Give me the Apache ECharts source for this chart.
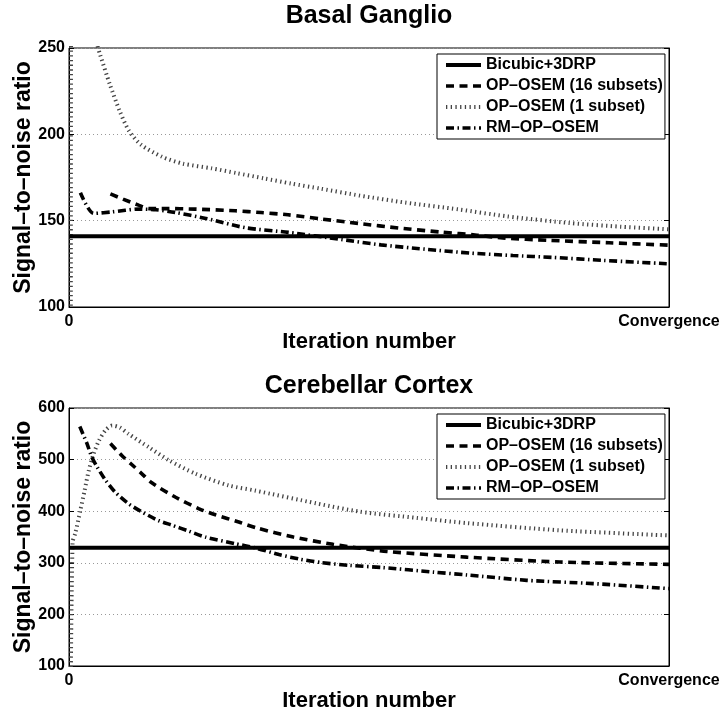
<!DOCTYPE html>
<html>
<head>
<meta charset="utf-8">
<script src="https://cdn.jsdelivr.net/npm/echarts@6/dist/echarts.min.js"></script>
<style>
  html, body { margin: 0; padding: 0; background: #fff; }
  #main { width: 721px; height: 708px; }
</style>
</head>
<body>
<div id="main"></div>
<script>
// Series names (shared by both panels)
const names = ['Bicubic+3DRP', 'OP\u2013OSEM (16 subsets)', 'OP\u2013OSEM (1 subset)', 'RM\u2013OP\u2013OSEM'];
const panelTitles = ['Basal Ganglio', 'Cerebellar Cortex'];
const xTickLabels = ['0', 'Convergence'];
const xName = 'Iteration number';
const yName = 'Signal\u2013to\u2013noise ratio';

// Basal Ganglio
const bgDrpIter = [0, 100];
const bgDrpSnr = [141, 141];
const bgOsem16Iter = [6.9, 9, 11.6, 13.3, 16, 21, 27.7, 32, 36.5, 42, 48.5, 55, 62, 68, 72.3, 80, 90, 100];
const bgOsem16Snr = [165.5, 162.5, 159, 157, 157, 156.7, 155.7, 154.7, 153.4, 151, 148.3, 145.7, 143.4, 141.6, 140, 138.6, 137.2, 135.8];
const bgOsem1Iter = [0.3, 0.55, 1.5, 2.5, 3.5, 4.7, 5.2, 6.8, 8.5, 10, 12, 15.5, 19, 23.8, 28, 32.5, 37, 42, 48.5, 56, 65, 73, 83.5, 92, 100];
const bgOsem1Snr = [60, 430, 355, 308, 274, 252, 246, 229, 213, 202, 194, 187, 183, 180.3, 177.5, 174.5, 171.5, 168.5, 164.5, 160.5, 156.5, 152.5, 148.6, 146.5, 145];
const bgRmIter = [1.9, 4.1, 7.2, 11.6, 14.5, 17.7, 22.8, 29.4, 36.6, 45.4, 52, 59.3, 67, 74, 80.7, 89, 100];
const bgRmSnr = [166.2, 154.2, 155.1, 156.7, 156.3, 154.8, 151.3, 145.9, 143.2, 139.1, 136, 133.5, 131.2, 129.8, 128.7, 127, 125];

// Cerebellar Cortex
const ccDrpIter = [0, 100];
const ccDrpSnr = [329, 329];
const ccOsem16Iter = [6.9, 8.8, 10.5, 12.2, 13.8, 17.7, 21.6, 24.4, 28.3, 31.3, 37.4, 44, 53, 66.3, 81.8, 100];
const ccOsem16Snr = [531, 508, 490, 472, 455, 427.5, 405, 393, 379, 367.5, 350, 335.8, 322, 311, 301.5, 297];
const ccOsem1Iter = [0.3, 0.6, 1.05, 1.9, 2.6, 3.3, 4.1, 5, 6.1, 7.2, 8.5, 9.9, 13.3, 16.6, 21, 26.6, 31, 41.3, 48.5, 58, 66.3, 81.8, 100];
const ccOsem1Snr = [80, 340, 357, 402, 440, 479, 511, 537, 557, 566, 562, 550, 524, 499, 473, 450, 440, 415, 399, 387, 377, 363, 353];
const ccRmIter = [1.8, 3, 3.8, 4.7, 6.1, 7.7, 9.9, 12.2, 14.9, 17.2, 19.9, 22.7, 27.7, 31, 35, 38.5, 42, 46.8, 52.4, 60.7, 66.3, 76.3, 87.4, 100];
const ccRmSnr = [564, 531, 505, 485.6, 460, 437, 414.7, 398.4, 382, 372.7, 361.6, 350, 337, 329, 316, 307, 300.5, 295, 290.7, 282, 276.5, 266, 259.7, 250];

// y-axis ranges per panel
const yMin = [100, 100];
const yMax = [250, 600];
const yStep = [50, 100];

const FONT = 'Liberation Sans';

function pairs(xs, ys) { return xs.map((x, i) => [x, ys[i]]); }

const styles = [
  { color: '#000', width: 4, type: 'solid' },
  { color: '#000', width: 3.6, type: [8, 5.5] },
  { color: '#444', width: 4, type: [1.3, 3.4] },
  { color: '#000', width: 3.6, type: [8, 3.5, 1.5, 3.5] }
];

const panels = [
  [pairs(bgDrpIter, bgDrpSnr), pairs(bgOsem16Iter, bgOsem16Snr), pairs(bgOsem1Iter, bgOsem1Snr), pairs(bgRmIter, bgRmSnr)],
  [pairs(ccDrpIter, ccDrpSnr), pairs(ccOsem16Iter, ccOsem16Snr), pairs(ccOsem1Iter, ccOsem1Snr), pairs(ccRmIter, ccRmSnr)]
];

const gridTops = [48, 408];
const gridHeights = [259, 258];
const titleTops = [-1, 369];

const lineStyleOf = k => ({ color: styles[k].color, width: styles[k].width, type: styles[k].type, cap: 'butt' });

const option = {
  animation: false,
  backgroundColor: '#fff',
  title: panelTitles.map((t, i) => ({
    text: t,
    left: 364,
    textAlign: 'center',
    top: titleTops[i],
    textStyle: { fontFamily: FONT, fontWeight: 'bold', fontSize: 25, color: '#000' }
  })),
  legend: [0, 1].map(i => ({
    data: names.map((n, k) => ({ name: n, lineStyle: lineStyleOf(k) })),
    orient: 'vertical',
    left: 437,
    top: gridTops[i] + 6,
    itemWidth: 35,
    itemHeight: 14,
    itemGap: 5,
    padding: [3, 2, 3, 7],
    backgroundColor: '#fff',
    borderColor: '#000',
    borderWidth: 1,
    borderRadius: 0,
    selectedMode: false,
    itemStyle: { opacity: 0 },
    textStyle: { fontFamily: FONT, fontWeight: 'bold', fontSize: 16, lineHeight: 14, color: '#000' }
  })),
  grid: [0, 1].map(i => ({
    left: 69, right: 52, top: gridTops[i], height: gridHeights[i],
    outerBoundsMode: 'none', containLabel: false,
    show: true, borderColor: '#000', borderWidth: 1, backgroundColor: '#fff'
  })),
  xAxis: [0, 1].map(i => ({
    type: 'value', gridIndex: i, min: 0, max: 100, interval: 100,
    name: xName, nameLocation: 'middle', nameGap: 24, nameMoveOverlap: false,
    nameTextStyle: { fontFamily: FONT, fontWeight: 'bold', fontSize: 22, color: '#000' },
    axisLine: { show: true, lineStyle: { color: '#000', width: 1 } },
    axisTick: { show: false },
    splitLine: { show: false },
    axisLabel: {
      fontFamily: FONT, fontWeight: 'bold', fontSize: 16, color: '#000', margin: 7,
      showMinLabel: true, showMaxLabel: true,
      formatter: v => (v === 0 ? xTickLabels[0] : xTickLabels[1])
    }
  })),
  yAxis: [0, 1].flatMap(i => [
    {
      type: 'value', gridIndex: i, min: yMin[i], max: yMax[i], interval: yStep[i],
      name: yName, nameLocation: 'middle', nameGap: 34, nameMoveOverlap: false,
      nameTextStyle: { fontFamily: FONT, fontWeight: 'bold', fontSize: 23, color: '#000' },
      axisLine: { show: true, lineStyle: { color: '#000', width: 1 } },
      axisTick: { show: true, inside: true, length: 5, lineStyle: { color: '#000' } },
      splitLine: { show: true, lineStyle: { color: '#999', width: 1, type: [1, 3] } },
      axisLabel: { fontFamily: FONT, fontWeight: 'bold', fontSize: 16, color: '#000', margin: 4 }
    },
    {
      type: 'value', gridIndex: i, position: 'right', min: yMin[i], max: yMax[i], interval: yStep[i],
      axisLine: { show: true, lineStyle: { color: '#000', width: 1 } },
      axisTick: { show: true, inside: true, length: 5, lineStyle: { color: '#000' } },
      splitLine: { show: false },
      axisLabel: { show: false }
    }
  ]),
  series: [0, 1].flatMap(p => panels[p].map((d, k) => ({
    name: names[k],
    type: 'line',
    xAxisIndex: p,
    yAxisIndex: p * 2,
    data: d,
    symbol: 'none',
    smooth: k === 0 ? false : 0.25,
    clip: true,
    z: k === 0 ? 3 : 2,
    lineStyle: lineStyleOf(k),
    itemStyle: { color: styles[k].color }
  })))
};

const chart = echarts.init(document.getElementById('main'));
chart.setOption(option);
</script>
</body>
</html>
